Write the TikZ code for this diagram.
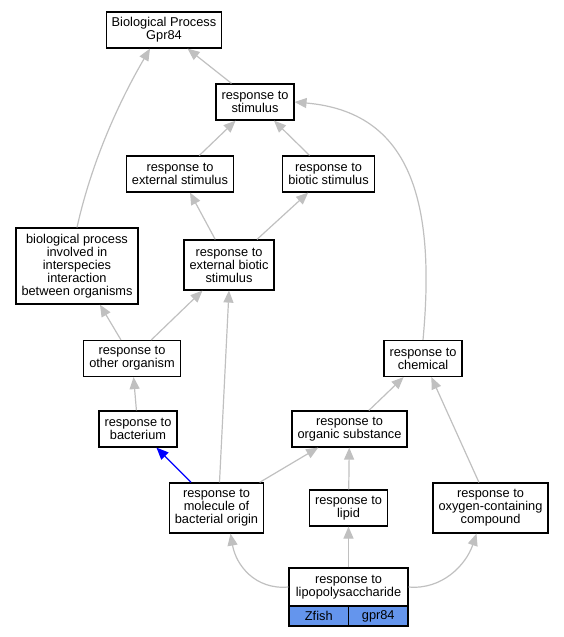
\documentclass[tikz,border=0pt]{standalone}
\usepackage{fontspec}
\setmainfont{Liberation Sans}
\usetikzlibrary{arrows.meta,calc}
\definecolor{edgegray}{HTML}{C0C0C0}
\definecolor{cellblue}{HTML}{6495ED}
\tikzset{
  gobox/.style={draw=black, line width=1.2pt, fill=white, align=center, inner xsep=5.5pt, inner ysep=0pt,
    font=\fontsize{12.8}{13}\selectfont},
  two/.style={minimum height=36pt},
  three/.style={minimum height=50pt},
  five/.style={minimum height=76pt},
  cell/.style={draw=black, line width=1.2pt, fill=cellblue, inner sep=0pt, minimum width=59.5pt, minimum height=20pt,
    font=\fontsize{12.8}{13}\selectfont},
  isa/.style={draw=edgegray, line width=1.2pt, -{Triangle[length=12pt,width=10pt]}, shorten >=0pt},
  bluearrow/.style={draw=blue, line width=1.2pt, -{Triangle[length=12pt,width=10pt]}},
}
\begin{document}
\begin{tikzpicture}[x=1pt,y=-1pt]
\useasboundingbox (0,0) rectangle (564,637);
\node[gobox,two] (bp) at (164,30) {Biological Process\\Gpr84};
\node[gobox,two] (stim) at (255,102) {response to\\stimulus};
\node[gobox,two] (ext) at (180,174) {response to\\external stimulus};
\node[gobox,two] (bio) at (328.5,174) {response to\\biotic stimulus};
\node[gobox,three] (extbio) at (229,265) {response to\\external biotic\\stimulus};
\node[gobox,five] (bpi) at (77,266) {biological process\\involved in\\interspecies\\interaction\\between organisms};
\node[gobox,two] (other) at (132,358.5) {response to\\other organism};
\node[gobox,two] (chem) at (423,358.5) {response to\\chemical};
\node[gobox,two] (bact) at (138,429) {response to\\bacterium};
\node[gobox,two] (org) at (349.5,429) {response to\\organic substance};
\node[gobox,three] (mol) at (216.5,508) {response to\\molecule of\\bacterial origin};
\node[gobox,two] (lip) at (348.5,508) {response to\\lipid};
\node[gobox,three] (oxy) at (490.5,508) {response to\\oxygen-containing\\compound};
\node[gobox, minimum width=119pt, minimum height=38pt] (lps) at (348.5,587) {response to\\lipopolysaccharide};
\node[cell] (zf) at (318.75,616) {Zfish};
\node[cell] (gp) at (378.25,616) {gpr84};
\draw[line width=1.2pt] (lps.north west) rectangle (gp.south east);

\draw[isa] (stim) -- (bp);
\draw[isa] (ext) -- (stim);
\draw[isa] (bio) -- (stim);
\draw[isa] (extbio) -- (ext);
\draw[isa] (extbio) -- (bio);
\draw[isa] (bpi.north) .. controls (92,160) and (120,100) .. ($(bp.south)+(-14,0)$);
\draw[isa] (other) -- (bpi);
\draw[isa] (other) -- (extbio);
\draw[isa] (chem.north) .. controls (436,200) and (410,112) .. (stim.east);
\draw[isa] (bact) -- (other);
\draw[isa] (org) -- (chem);
\draw[bluearrow] (mol) -- (bact);
\draw[isa] ($(mol.north)+(3,0)$) -- ($(extbio.south)+(0,0)$);
\draw[isa] (mol) -- (org);
\draw[isa] (lip) -- (org);
\draw[isa] (oxy) -- (chem);
\draw[isa] (lps) -- (lip);
\draw[isa] (lps.west) .. controls (255,590) and (236,565) .. ($(mol.south)+(14,0)$);
\draw[isa] (lps.east) .. controls (442,590) and (466,565) .. ($(oxy.south)+(-14,0)$);
\end{tikzpicture}
\end{document}
